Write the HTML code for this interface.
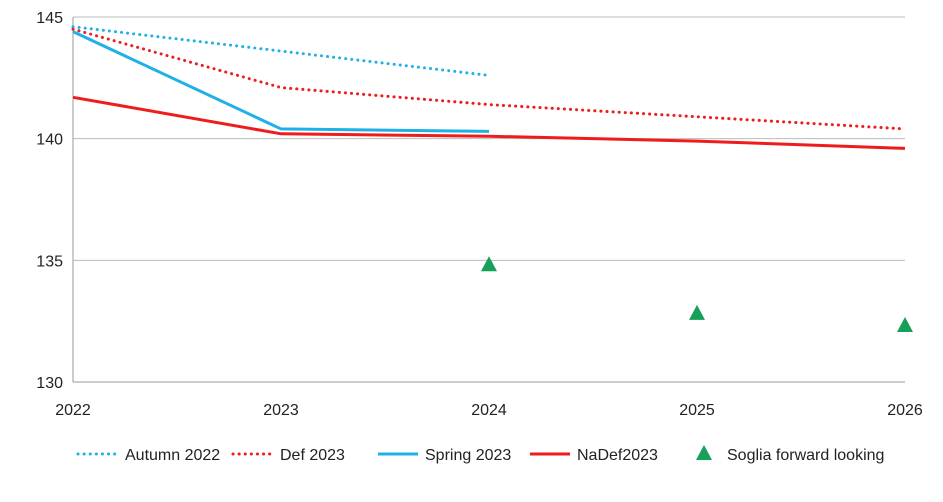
<!DOCTYPE html>
<html><head><meta charset="utf-8"><style>
body{margin:0;background:#fff;font-family:"Liberation Sans",sans-serif}
svg text{font-family:"Liberation Sans",sans-serif;font-size:16px;fill:#222}
</style></head><body>
<svg id="c" width="943" height="497"></svg>
<script>
const years=[2022,2023,2024,2025,2026];
const yTicks=[130,135,140,145];
const autumn2022=[144.6,143.6,142.6];
const def2023=[144.5,142.1,141.4,140.9,140.4];
const spring2023=[144.4,140.4,140.3];
const nadef2023=[141.7,140.2,140.1,139.9,139.6];
const soglia=[null,null,134.8,132.8,132.3];
const NS="http://www.w3.org/2000/svg";
const svg=document.getElementById('c');
const x0=73,x1=905,yTop=17,yBot=382;
const X=i=>x0+i*(x1-x0)/(years.length-1);
const Y=v=>yBot-(v-130)/(145-130)*(yBot-yTop);
function el(t,a,p){const e=document.createElementNS(NS,t);for(const k in a)e.setAttribute(k,a[k]);(p||svg).appendChild(e);return e;}
yTicks.forEach(v=>{
 const g=el('line',{x1:x0,x2:x1,y1:Y(v),y2:Y(v),stroke:v===130?'#999':'#bbb','stroke-width':1});
 
 
 const t=el('text',{x:x0-10,y:Y(v)+6,'text-anchor':'end'});t.textContent=v;
 
 
});
const ax=el('line',{x1:x0,x2:x0,y1:yTop,y2:yBot,stroke:'#999'});


years.forEach((yr,i)=>{
 const t=el('text',{x:X(i),y:yBot+33,'text-anchor':'middle'});t.textContent=yr;
 
 
});
function line(arr,color,dash,name){
 const pts=arr.map((v,i)=>v==null?null:X(i)+','+Y(v)).filter(p=>p).join(' ');
 const p=el('polyline',{points:pts,fill:'none',stroke:color,'stroke-width':3,'stroke-dasharray':dash||'none'});
 if(dash)p.setAttribute('stroke-linecap','round');
 
 
}
line(autumn2022,'#1fb0e8','0.1 6','series-autumn-2022');
line(def2023,'#ee1c1c','0.1 6','series-def-2023');
line(spring2023,'#1fb0e8',null,'series-spring-2023');
line(nadef2023,'#ee1c1c',null,'series-nadef2023');
function tri(cx,cy,name){
 const p=el('polygon',{points:`${cx},${cy-9} ${cx-8},${cy+6} ${cx+8},${cy+6}`,fill:'#17a05a'});
 
 
}
soglia.forEach((v,i)=>{if(v!=null)tri(X(i),Y(v),'soglia-point-'+years[i]);});
// legend
const ly=454;
const leg=[['Autumn 2022','#1fb0e8',true,78],['Def 2023','#ee1c1c',true,233],['Spring 2023','#1fb0e8',false,378],['NaDef2023','#ee1c1c',false,530]];
leg.forEach(([n,c,d,lx])=>{
 const l=el('line',{x1:lx,x2:lx+40,y1:ly,y2:ly,stroke:c,'stroke-width':3});
 if(d){l.setAttribute('stroke-dasharray','0.1 6');l.setAttribute('stroke-linecap','round');}
 
 
 const t=el('text',{x:lx+47,y:ly+6});t.textContent=n;
 
 
});
tri(704,ly,'legend-swatch-soglia');
const st=el('text',{x:727,y:ly+6});st.textContent='Soglia forward looking';


</script>
</body></html>
